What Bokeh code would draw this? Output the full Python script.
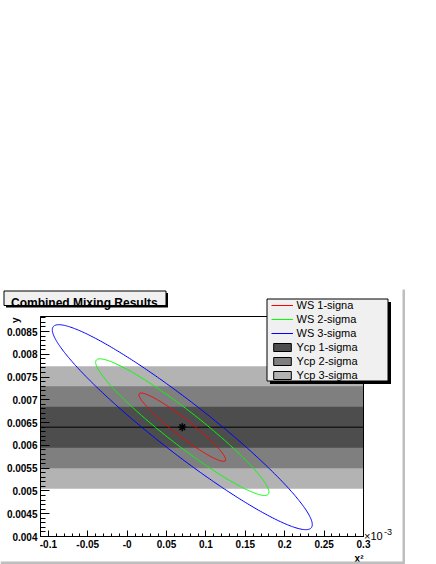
import numpy as np
from bokeh.plotting import figure
from bokeh.models import (Range1d, FixedTicker, Legend, LegendItem, Label,
                          BoxAnnotation, LinearAxis)
from bokeh.embed import file_html
from bokeh.resources import INLINE

# ---------------- data ----------------
# WS contours: centre, 1-sigma half extents and correlation (x in units of 1e-3)
ws_center_x = 0.07
ws_center_y = 0.0064
ws_sigma_x = 0.055
ws_sigma_y = 0.00075
ws_rho = -0.95
ws_levels = [1, 2, 3]
ws_labels = ["WS 1-signa", "WS 2-sigma", "WS 3-sigma"]
ws_colors = ["#ff0000", "#00ff00", "#0000ff"]

# Ycp bands
ycp_center = 0.0064
ycp_lo = [0.00595, 0.0055, 0.00505]
ycp_hi = [0.00685, 0.0073, 0.00774]
ycp_labels = ["Ycp 1-sigma", "Ycp 2-sigma", "Ycp 3-sigma"]
ycp_colors = ["#4d4d4d", "#7f7f7f", "#b3b3b3"]

x_ticks = [-0.1, -0.05, 0, 0.05, 0.1, 0.15, 0.2, 0.25, 0.3]
x_tick_labels = ["-0.1", "-0.05", "-0", "0.05", "0.1", "0.15", "0.2", "0.25", "0.3"]
y_ticks = [0.004, 0.0045, 0.005, 0.0055, 0.006, 0.0065, 0.007, 0.0075, 0.008, 0.0085]
y_tick_labels = ["0.004", "0.0045", "0.005", "0.0055", "0.006", "0.0065",
                 "0.007", "0.0075", "0.008", "0.0085"]

X_MIN, X_MAX = -0.11, 0.30
Y_MIN, Y_MAX = 0.004, 0.00883

title_text = "Combined Mixing Results"
x_title = "x\u00b2"
y_title = "y"

# ---------------- layout ----------------
W, H = 436, 564
FL, FR, FT, FB = 40, 363, 316, 536   # axis box edges in canvas px
DX = (X_MAX - X_MIN) / (FR - FL)
DY = (Y_MAX - Y_MIN) / (FB - FT)
XR0, XR1 = X_MIN - FL * DX, X_MAX + (W - FR) * DX
YR0, YR1 = Y_MIN - (H - FB) * DY, Y_MAX + FT * DY

FONT = "Liberation Sans"

p = figure(width=W, height=H,
           x_range=Range1d(XR0, XR1), y_range=Range1d(YR0, YR1),
           output_backend="svg", toolbar_location=None,
           x_axis_location=None, y_axis_location=None,
           min_border=0)
p.grid.visible = False
p.background_fill_color = "white"
p.border_fill_color = "white"
p.outline_line_color = None


# canvas pixel -> data coordinates
def rx(px):
    return XR0 + px * DX


def ry(py):
    return YR1 - py * DY


# ---------------- axes ----------------
x_minor = [round(v, 4) for v in np.arange(-0.11, 0.3001, 0.01)]
y_minor = [round(v, 6) for v in np.arange(0.004, 0.00885, 0.0001)]

xaxis = LinearAxis(fixed_location=Y_MIN, bounds=(X_MIN, X_MAX),
                   ticker=FixedTicker(ticks=x_ticks, minor_ticks=x_minor))
yaxis = LinearAxis(fixed_location=X_MIN, bounds=(Y_MIN, Y_MAX),
                   ticker=FixedTicker(ticks=y_ticks, minor_ticks=y_minor))
xaxis.major_label_overrides = {t: s for t, s in zip(x_ticks, x_tick_labels)}
yaxis.major_label_overrides = {t: s for t, s in zip(y_ticks, y_tick_labels)}

for ax in (xaxis, yaxis):
    ax.axis_line_color = "black"
    ax.major_tick_line_color = "black"
    ax.minor_tick_line_color = "black"
    ax.major_tick_out = 0
    ax.minor_tick_out = 0
    ax.major_label_text_font = FONT
    ax.major_label_text_font_style = "bold"
    ax.major_label_text_font_size = "10px"
    ax.major_label_text_color = "black"

xaxis.major_tick_in = 6
xaxis.minor_tick_in = 3
yaxis.major_tick_in = 9
yaxis.minor_tick_in = 5
xaxis.major_label_standoff = 3
yaxis.major_label_standoff = 3

# ---------------- Ycp bands ----------------
for i in [2, 1, 0]:
    p.quad(left=[X_MIN], right=[X_MAX], bottom=[ycp_lo[i]], top=[ycp_hi[i]],
           fill_color=ycp_colors[i], line_color=None)

# legend proxies for the bands (zero width, lying on the y axis line)
ycp_proxies = []
for i in range(3):
    r = p.quad(left=[X_MIN], right=[X_MIN], bottom=[ycp_lo[i]], top=[ycp_hi[i]],
               fill_color=ycp_colors[i], line_color="black", line_width=1)
    ycp_proxies.append(r)

p.segment(x0=[X_MIN], x1=[X_MAX], y0=[ycp_center], y1=[ycp_center],
          line_color="black", line_width=1)

# ---------------- WS contours ----------------
t = np.linspace(0, 2 * np.pi, 361)
ws_renderers = []
for lev, col in zip(ws_levels, ws_colors):
    ex = ws_center_x + lev * ws_sigma_x * np.cos(t)
    ey = ws_center_y + lev * ws_sigma_y * (ws_rho * np.cos(t)
                                           + np.sqrt(1 - ws_rho ** 2) * np.sin(t))
    r = p.line(ex, ey, line_color=col, line_width=1)
    ws_renderers.append(r)

p.scatter([ws_center_x], [ws_center_y], marker="asterisk", size=8,
          line_color="black", line_width=1.5)

# frame box
p.quad(left=[X_MIN], right=[X_MAX], bottom=[Y_MIN], top=[Y_MAX],
       fill_color=None, line_color="black", line_width=1)

p.add_layout(xaxis, "below")
p.add_layout(yaxis, "left")

# ---------------- title box ----------------
p.add_layout(BoxAnnotation(left=rx(5.5), right=rx(167.5), top=ry(292.5), bottom=ry(307),
                           fill_color="black", fill_alpha=1, line_color=None))
p.add_layout(BoxAnnotation(left=rx(3.5), right=rx(165.5), top=ry(290.5), bottom=ry(305),
                           fill_color="#f0f0f0", fill_alpha=1,
                           line_color="black", line_width=1, line_alpha=1))
p.add_layout(Label(x=rx(10.5), y=ry(302.3), text=title_text, text_font=FONT,
                   text_font_style="bold", text_font_size="12px",
                   text_color="black", text_baseline="alphabetic"))

# ---------------- legend ----------------
p.add_layout(BoxAnnotation(left=rx(269.5), right=rx(390.5), top=ry(301.5),
                           bottom=ry(383.5), fill_color="black", fill_alpha=1,
                           line_color=None))
p.add_layout(BoxAnnotation(left=rx(266.5), right=rx(387.5), top=ry(298.5),
                           bottom=ry(380.5), fill_color="#f0f0f0", fill_alpha=1,
                           line_color="black", line_width=1, line_alpha=1))
items = [LegendItem(label=lab, renderers=[r]) for lab, r in zip(ws_labels, ws_renderers)]
items += [LegendItem(label=lab, renderers=[r]) for lab, r in zip(ycp_labels, ycp_proxies)]
leg = Legend(items=items, location=(270.5, H - 381.5), orientation="vertical",
             padding=0, spacing=0, margin=0,
             glyph_width=22, glyph_height=10, label_height=14, label_width=85,
             label_standoff=4,
             border_line_color=None, background_fill_alpha=0,
             label_text_font=FONT, label_text_font_size="11px",
             label_text_color="black")
p.add_layout(leg)

# ---------------- axis titles ----------------
p.add_layout(Label(x=rx(14.5), y=ry(317), text=y_title, angle=np.pi / 2,
                   text_font=FONT, text_font_style="bold", text_font_size="10px",
                   text_align="right", text_baseline="alphabetic", text_color="black"))
p.add_layout(Label(x=rx(363), y=ry(558), text=x_title, text_font=FONT,
                   text_font_style="bold", text_font_size="10px",
                   text_align="right", text_baseline="alphabetic", text_color="black"))
p.add_layout(Label(x=rx(363.5), y=ry(535.5), text="\u00d710", text_font=FONT,
                   text_font_size="11px", text_align="left",
                   text_baseline="alphabetic", text_color="black"))
p.add_layout(Label(x=rx(383.5), y=ry(531), text="-3", text_font=FONT,
                   text_font_size="9px", text_align="left",
                   text_baseline="alphabetic", text_color="black"))

# ---------------- pad border ----------------
p.add_layout(BoxAnnotation(left=rx(402), right=rx(404.5), top=ry(289), bottom=ry(563.5),
                           fill_color="#bebebe", fill_alpha=1, line_color=None))
p.add_layout(BoxAnnotation(left=rx(0), right=rx(404.5), top=ry(561), bottom=ry(563.5),
                           fill_color="#bebebe", fill_alpha=1, line_color=None))

open("out.html", "w").write(file_html(p, INLINE))
